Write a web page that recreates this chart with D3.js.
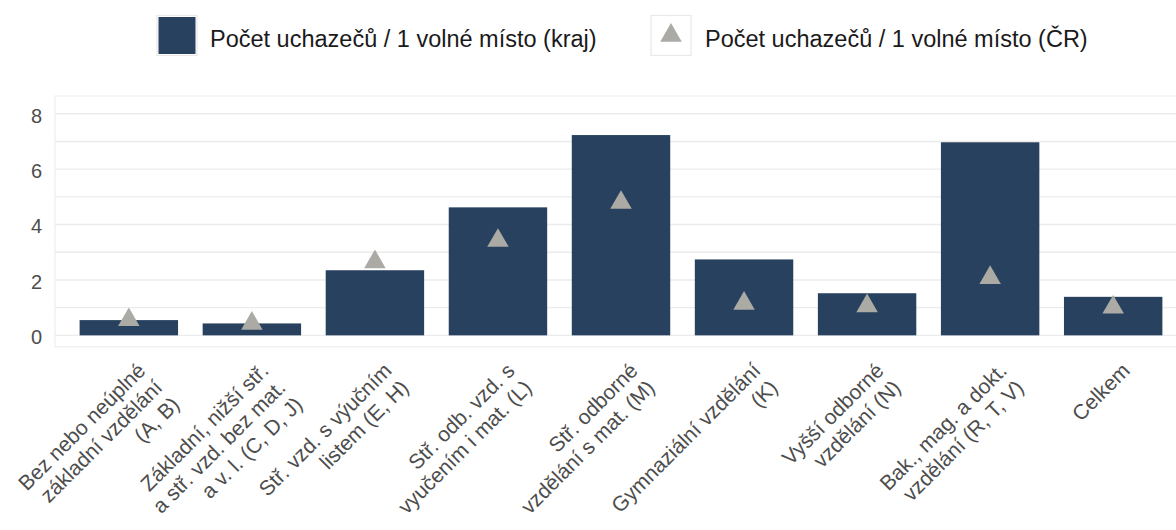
<!DOCTYPE html>
<meta charset="utf-8">

<!-- Load d3.js -->
<script src="https://d3js.org/d3.v7.min.js"></script>

<style>
  body { margin: 0; background: #fff; }
  text { font-family: "Liberation Sans", Arial, sans-serif; }
</style>

<!-- Create a div where the graph will take place -->
<div id="my_dataviz"></div>

<script>

// categories (each label split into its lines)
var categoryLines = [
  ["Bez nebo neúplné", "základní vzdělání", "(A, B)"],
  ["Základní, nižší stř.", "a stř. vzd. bez mat.", "a v. l. (C, D, J)"],
  ["Stř. vzd. s výučním", "listem (E, H)"],
  ["Stř. odb. vzd. s", "vyučením i mat. (L)"],
  ["Stř. odborné", "vzdělání s mat. (M)"],
  ["Gymnaziální vzdělání", "(K)"],
  ["Vyšší odborné", "vzdělání (N)"],
  ["Bak., mag. a dokt.", "vzdělání (R, T, V)"],
  ["Celkem"]
];
var categories = categoryLines.map(d => d.join(" "));

// series values
var krajValues = [0.55, 0.43, 2.35, 4.62, 7.23, 2.74, 1.52, 6.97, 1.39];
var crValues   = [0.56, 0.43, 2.65, 3.42, 4.79, 1.15, 1.06, 2.08, 1.01];

// tick values
var yTicks = [0, 2, 4, 6, 8];
var yMinor = [1, 3, 5, 7];

// legend labels
var seriesNames = ["Počet uchazečů / 1 volné místo (kraj)", "Počet uchazečů / 1 volné místo (ČR)"];

var barColor = "#27415f",
    triColor = "#abaaa5",
    gridColor = "#ebebeb";

var width = 1176, height = 530;
var panel = {left: 55, right: 1187, top: 96, bottom: 346.7};

var svg = d3.select("#my_dataviz")
  .append("svg")
    .attr("width", width)
    .attr("height", height);

// scales
var x = d3.scaleBand()
  .domain(categories)
  .range([panel.left, panel.right])
  .paddingInner(0.2)
  .paddingOuter(0.2);

var y = d3.scaleLinear()
  .domain([-0.41, 8.64])
  .range([panel.bottom, panel.top]);

// panel border
svg.append("rect")
  .attr("x", panel.left)
  .attr("y", panel.top)
  .attr("width", panel.right - panel.left)
  .attr("height", panel.bottom - panel.top)
  .attr("fill", "none")
  .attr("stroke", "#eeeeee")
  .attr("stroke-width", 1.2);

// gridlines
svg.append("g")
  .selectAll("line")
  .data(yTicks.concat(yMinor))
  .enter()
  .append("line")
    .attr("x1", panel.left)
    .attr("x2", panel.right)
    .attr("y1", d => y(d))
    .attr("y2", d => y(d))
    .attr("stroke", gridColor)
    .attr("stroke-width", 1.4);

// Y axis labels
svg.append("g")
  .attr("transform", "translate(" + panel.left + ",0)")
  .call(d3.axisLeft(y).tickValues(yTicks).tickSize(0).tickPadding(13))
  .call(g => g.select(".domain").remove())
  .selectAll("text")
    .attr("dy", "0.42em")
    .style("font-family", "'Liberation Sans', Arial, sans-serif")
    .style("font-size", "20px")
    .attr("fill", "#4d4d4d");

// bars
svg.append("g")
  .selectAll("rect")
  .data(krajValues)
  .enter()
  .append("rect")
    .attr("x", (d, i) => x(categories[i]))
    .attr("width", x.bandwidth())
    .attr("y", d => y(d))
    .attr("height", d => y(0) - y(d))
    .attr("fill", barColor);

// triangles
var tri = d3.symbol().type(d3.symbolTriangle).size(200);
svg.append("g")
  .selectAll("path")
  .data(crValues)
  .enter()
  .append("path")
    .attr("d", tri)
    .attr("transform", (d, i) => "translate(" + (x(categories[i]) + x.bandwidth() / 2) + "," + y(d) + ")")
    .attr("fill", triColor);

// X axis labels, rotated, right aligned
var lineH = 24;
var labels = svg.append("g")
  .selectAll("g")
  .data(categoryLines)
  .enter()
  .append("g")
    .attr("transform", (d, i) => "translate(" + (x(categories[i]) + x.bandwidth() / 2 + 7) + ",361) rotate(-45)");

labels.selectAll("text")
  .data(d => d)
  .enter()
  .append("text")
    .attr("x", 0)
    .attr("y", (d, j) => 15.5 + j * lineH)
    .attr("text-anchor", "end")
    .style("font-size", "21px")
    .attr("fill", "#4d4d4d")
    .text(d => d);

// legend
var legendX = [157, 651], legendTextX = [210, 705];
var legend = svg.append("g");

legend.selectAll("rect.key")
  .data(seriesNames)
  .enter()
  .append("rect")
    .attr("class", "key")
    .attr("x", (d, i) => legendX[i])
    .attr("y", 15.5)
    .attr("width", 40)
    .attr("height", 40)
    .attr("fill", "#fff")
    .attr("stroke", "#e8e8e8")
    .attr("stroke-width", 1.2);

legend.append("rect")
  .attr("x", legendX[0] + 1.5)
  .attr("y", 17)
  .attr("width", 37)
  .attr("height", 37)
  .attr("fill", barColor);

legend.append("path")
  .attr("d", tri)
  .attr("transform", "translate(" + (legendX[1] + 20) + ",35.5)")
  .attr("fill", triColor);

legend.selectAll("text")
  .data(seriesNames)
  .enter()
  .append("text")
    .attr("x", (d, i) => legendTextX[i])
    .attr("y", 46.5)
    .style("font-size", "23.5px")
    .attr("fill", "#1a1a1a")
    .text(d => d);

</script>
